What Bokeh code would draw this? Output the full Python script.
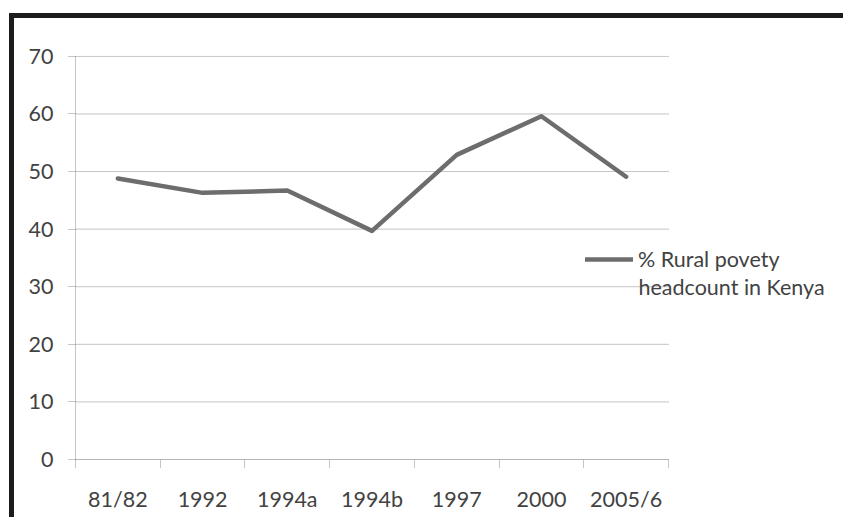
from bokeh.plotting import figure
from bokeh.models import Range1d, FixedTicker, Legend, LegendItem, Label
from bokeh.embed import file_html
from bokeh.resources import INLINE

# ---- data ----
periods = ["81/82", "1992", "1994a", "1994b", "1997", "2000", "2005/6"]
rural_poverty = [48.8, 46.3, 46.7, 39.7, 52.9, 59.6, 49.1]
y_ticks = [0, 10, 20, 30, 40, 50, 60, 70]
legend_line1 = "% Rural povety"
legend_line2 = "headcount in Kenya"

FONT = "Lato"
FS = "21.5px"
TXT = "#424242"
GRID = "#8a8a8a"

n = len(periods)
x_pos = [i + 0.5 for i in range(n)]          # category centres
boundaries = list(range(n + 1))             # category boundaries (tick marks)

W, H = 834, 504
p = figure(width=W, height=H, output_backend="svg", toolbar_location=None,
           x_range=Range1d(0, 9.125), y_range=Range1d(y_ticks[0], y_ticks[-1] + 0.15),
           min_border_left=61, min_border_right=0, min_border_top=37,
           min_border_bottom=63, background_fill_color="white",
           border_fill_color="white", outline_line_color=None,
           styles={"border-left": "5px solid #1c1c1c",
                   "border-top": "5px solid #1c1c1c",
                   "margin-left": "9px", "margin-top": "13px"})

p.xgrid.grid_line_color = None
p.ygrid.grid_line_color = None

# horizontal gridlines spanning the categories only
p.segment(x0=[boundaries[0]] * len(y_ticks), x1=[boundaries[-1]] * len(y_ticks),
          y0=y_ticks, y1=y_ticks, line_color=GRID, line_dash="1 1", line_width=1)

# data line
r = p.line(x_pos, rural_poverty, line_color="#6d6d6d", line_width=4.5,
           line_join="round", line_cap="round")

# x axis: labels at centres, small ticks at category boundaries
xa = p.xaxis[0]
xa.bounds = (boundaries[0], boundaries[-1])
xa.ticker = FixedTicker(ticks=x_pos, minor_ticks=boundaries)
xa.major_label_overrides = {x: lab for x, lab in zip(x_pos, periods)}
xa.major_tick_line_color = None
xa.major_tick_out = 0
xa.major_tick_in = 0
xa.minor_tick_line_color = GRID
xa.minor_tick_line_dash = "1 1"
xa.minor_tick_out = 8
xa.minor_tick_in = 0
xa.axis_line_color = GRID
xa.axis_line_dash = "1 1"
xa.major_label_standoff = 18
xa.major_label_text_font = FONT
xa.major_label_text_font_size = FS
xa.major_label_text_color = TXT

ya = p.yaxis[0]
ya.ticker = FixedTicker(ticks=y_ticks)
ya.minor_tick_line_color = None
ya.major_tick_line_color = GRID
ya.major_tick_line_dash = "1 1"
ya.major_tick_out = 7
ya.major_tick_in = 0
ya.axis_line_color = GRID
ya.axis_line_dash = "1 1"
ya.major_label_standoff = 15
ya.major_label_text_font = FONT
ya.major_label_text_font_size = FS
ya.major_label_text_color = TXT

legend = Legend(items=[LegendItem(label=legend_line1, renderers=[r])],
                location=(510, 187), orientation="vertical",
                glyph_width=48, glyph_height=20, label_height=20,
                label_standoff=5, padding=0, margin=0, spacing=0,
                border_line_color=None, background_fill_alpha=0,
                label_text_font=FONT, label_text_font_size=FS,
                label_text_color=TXT)
p.add_layout(legend, "center")

p.add_layout(Label(x=563, y=173, x_units="screen", y_units="screen",
                   text=legend_line2, text_font=FONT, text_font_size=FS,
                   text_color=TXT, text_baseline="alphabetic", text_align="left"))

open("out.html", "w").write(file_html(p, INLINE))
